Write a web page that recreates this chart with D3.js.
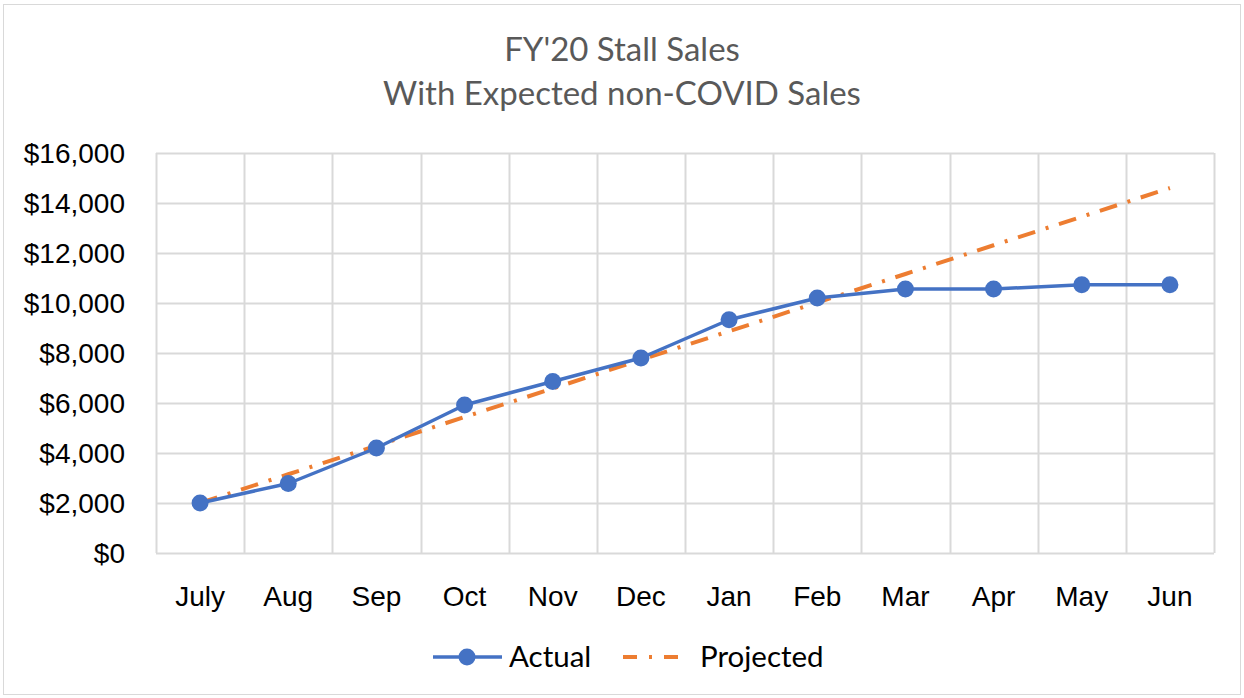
<!DOCTYPE html>
<html lang="en">
<head>
<meta charset="utf-8">
<title>FY'20 Stall Sales</title>
<style>
  * { margin: 0; padding: 0; box-sizing: border-box; }
  body { background: #fff; font-family: Lato, "Noto Sans", sans-serif; overflow: hidden; }
  svg { display: block; }
  .tick-label { font-size: 28px; fill: #000; }
  .title { font-size: 33px; fill: #595959; }
  .legend-label { font-size: 29.5px; fill: #000; }
</style>
</head>
<body>
<svg id="chart" width="1244" height="698"></svg>
<script src="https://d3js.org/d3.v7.min.js"></script>
<script>
const months = ["July", "Aug", "Sep", "Oct", "Nov", "Dec", "Jan", "Feb", "Mar", "Apr", "May", "Jun"];
const actual = [2000, 2780, 4200, 5920, 6860, 7800, 9330, 10200, 10560, 10560, 10730, 10730];
const projected = [2000, 3150, 4290, 5440, 6580, 7730, 8870, 10020, 11160, 12310, 13450, 14600];
const yTicks = [0, 2000, 4000, 6000, 8000, 10000, 12000, 14000, 16000];
const titleLines = ["FY'20 Stall Sales", "With Expected non-COVID Sales"];

const blue = "#4472C4";
const orange = "#ED7D31";
const grid = "#D9D9D9";
const dashDot = "18 11 3 11";

const svg = d3.select("#chart");

// chart border
svg.append("rect")
  .attr("x", 3.5).attr("y", 4.5).attr("width", 1237).attr("height", 690)
  .attr("fill", "#fff").attr("stroke", grid);

const plot = { left: 156, right: 1214, top: 153, bottom: 553 };

const x = d3.scaleBand().domain(months).range([plot.left, plot.right]);
const y = d3.scaleLinear().domain([0, 16000]).range([plot.bottom, plot.top]);

// title
svg.append("g").selectAll("text")
  .data(titleLines).join("text")
  .attr("class", "title")
  .attr("x", 622)
  .attr("y", (d, i) => 61 + i * 44)
  .attr("text-anchor", "middle")
  .text(d => d);

// horizontal gridlines
svg.append("g").selectAll("line")
  .data(yTicks).join("line")
  .attr("x1", plot.left).attr("x2", plot.right)
  .attr("y1", d => Math.round(y(d)) + 0.5).attr("y2", d => Math.round(y(d)) + 0.5)
  .attr("stroke", grid).attr("stroke-width", 2);

// vertical gridlines at band edges
const edges = months.map(m => x(m)).concat([plot.right]);
svg.append("g").selectAll("line")
  .data(edges).join("line")
  .attr("x1", d => Math.round(d) + 0.5).attr("x2", d => Math.round(d) + 0.5)
  .attr("y1", plot.top).attr("y2", plot.bottom)
  .attr("stroke", grid).attr("stroke-width", 2);

// y axis labels
const yAxis = d3.axisLeft(y).tickValues(yTicks).tickSize(0).tickPadding(31)
  .tickFormat(d => "$" + d3.format(",")(d));
svg.append("g")
  .attr("transform", `translate(${plot.left},0)`)
  .call(yAxis)
  .call(g => g.select(".domain").remove())
  .call(g => g.selectAll("text").attr("class", "tick-label").attr("font-family", null).attr("font-size", null).attr("fill", null).attr("dy", "0.35em"));

// x axis labels
const xAxis = d3.axisBottom(x).tickSize(0).tickPadding(33);
svg.append("g")
  .attr("transform", `translate(0,${plot.bottom})`)
  .call(xAxis)
  .call(g => g.select(".domain").remove())
  .call(g => g.selectAll("text").attr("class", "tick-label").attr("font-family", null).attr("font-size", null).attr("fill", null));

const cx = d => x(d) + x.bandwidth() / 2;

const line = d3.line().x((d, i) => cx(months[i])).y(d => y(d));

// projected
svg.append("path")
  .datum(projected)
  .attr("d", line)
  .attr("fill", "none")
  .attr("stroke", orange)
  .attr("stroke-width", 4)
  .attr("stroke-dasharray", dashDot);

// actual
svg.append("path")
  .datum(actual)
  .attr("d", line)
  .attr("fill", "none")
  .attr("stroke", blue)
  .attr("stroke-width", 3.5)
  .attr("stroke-linejoin", "round");

svg.append("g").selectAll("circle")
  .data(actual).join("circle")
  .attr("cx", (d, i) => cx(months[i]))
  .attr("cy", d => y(d))
  .attr("r", 8.5)
  .attr("fill", blue);

// legend
const legend = svg.append("g").attr("transform", "translate(0,657)");
legend.append("line")
  .attr("x1", 433).attr("x2", 502).attr("y1", 0).attr("y2", 0)
  .attr("stroke", blue).attr("stroke-width", 3.5);
legend.append("circle").attr("cx", 467).attr("cy", 0).attr("r", 8.5).attr("fill", blue);
legend.append("text").attr("class", "legend-label").attr("x", 509).attr("y", 10).text("Actual");

legend.append("line")
  .attr("x1", 623).attr("x2", 684).attr("y1", 0).attr("y2", 0)
  .attr("stroke", orange).attr("stroke-width", 4)
  .attr("stroke-dasharray", "14 12 3 12");
legend.append("text").attr("class", "legend-label").attr("x", 700).attr("y", 10).text("Projected");
</script>
</body>
</html>
